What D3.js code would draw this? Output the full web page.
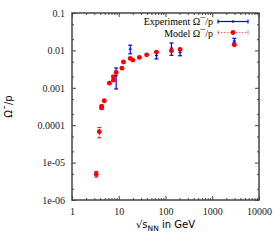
<!DOCTYPE html>
<html>
<head>
<meta charset="utf-8">
<script src="https://cdn.jsdelivr.net/npm/d3@7"></script>
<style>
body { margin: 0; background: #fff; }
</style>
</head>
<body>
<div id="chart"></div>
<script>
const w = 280, h = 245,
m = {top: 13, right: 21, bottom: 45, left: 72};

// model values (red points)
const modelX = [3.3, 3.83, 4.3, 4.3, 4.9, 6.3, 7.7, 7.7, 8.8, 11.7, 12.6, 17.6, 20, 27.6, 39.6, 64, 134, 205, 2960];
const modelY = [4.9e-6, 6.7e-5, 3.2e-4, 2.9e-4, 4.5e-4, 1.33e-3, 2.0e-3, 1.6e-3, 2.6e-3, 3.35e-3, 4.9e-3, 6.1e-3, 5.5e-3, 6.5e-3, 7.6e-3, 9.0e-3, 9.8e-3, 1.06e-2, 1.41e-2];
const modelLo = [4.1e-6, 4.6e-5, 2.9e-4, 2.7e-4, 4.3e-4, 1.28e-3, 1.9e-3, 1.5e-3, 2.5e-3, 3.25e-3, 4.7e-3, 5.9e-3, 5.3e-3, 6.3e-3, 7.4e-3, 8.6e-3, 9.4e-3, 1.02e-2, 1.36e-2];
const modelHi = [5.8e-6, 8.6e-5, 3.5e-4, 3.1e-4, 4.7e-4, 1.38e-3, 2.1e-3, 1.7e-3, 2.7e-3, 3.45e-3, 5.1e-3, 6.3e-3, 5.7e-3, 6.7e-3, 7.8e-3, 9.4e-3, 1.02e-2, 1.10e-2, 1.46e-2];

// experiment values (blue error bars)
const expX = [8.8, 17.6, 64, 134, 205, 2960];
const expY = [2.1e-3, 1.08e-2, 7.3e-3, 1.15e-2, 8.8e-3, 1.78e-2];
const expLo = [9.3e-4, 8.1e-3, 5.9e-3, 7.4e-3, 7.2e-3, 1.58e-2];
const expHi = [3.4e-3, 1.38e-2, 9.0e-3, 1.58e-2, 1.06e-2, 2.1e-2];

const xTicks = [1, 10, 100, 1000, 10000];
const yTicks = [1e-6, 1e-5, 1e-4, 1e-3, 1e-2, 1e-1];
const yLabels = ["1e-06", "1e-05", "0.0001", "0.001", "0.01", "0.1"];

const svg = d3.select("#chart")
    .append("svg")
    .attr("width", w)
    .attr("height", h);

let x = d3.scaleLog([1, 10000], [m.left, w - m.right]);
let y = d3.scaleLog([1e-6, 0.1], [h - m.bottom, m.top]);

// minor ticks
let xMinor = [];
for (let d = 1; d < 10000; d *= 10) for (let k = 2; k < 10; k++) xMinor.push(d * k);
let yMinor = [];
for (let d = 1e-6; d < 0.099; d *= 10) { yMinor.push(d * 2); yMinor.push(d * 5); }

const axisCol = "#444";
function styleAxis(g) {
    g.select(".domain").remove();
    g.selectAll("line").attr("stroke", axisCol);
    g.selectAll("text").style("font-family", "Liberation Serif").style("font-size", "10px").attr("fill", "#222");
}

svg.append("g").attr("transform", `translate(0,${h - m.bottom})`)
    .call(d3.axisBottom(x).tickValues(xTicks).tickFormat(d3.format("d")).tickSize(-4).tickPadding(8))
    .call(styleAxis);
svg.append("g").attr("transform", `translate(0,${h - m.bottom})`)
    .call(d3.axisBottom(x).tickValues(xMinor).tickFormat("").tickSize(-2))
    .call(styleAxis);
svg.append("g").attr("transform", `translate(0,${m.top})`)
    .call(d3.axisTop(x).tickValues(xTicks).tickFormat("").tickSize(-4))
    .call(styleAxis);
svg.append("g").attr("transform", `translate(0,${m.top})`)
    .call(d3.axisTop(x).tickValues(xMinor).tickFormat("").tickSize(-2))
    .call(styleAxis);

svg.append("g").attr("transform", `translate(${m.left},0)`)
    .call(d3.axisLeft(y).tickValues(yTicks).tickFormat((d, i) => yLabels[i]).tickSize(-4).tickPadding(7))
    .call(styleAxis);
svg.append("g").attr("transform", `translate(${m.left},0)`)
    .call(d3.axisLeft(y).tickValues(yMinor).tickFormat("").tickSize(-2))
    .call(styleAxis);
svg.append("g").attr("transform", `translate(${w - m.right},0)`)
    .call(d3.axisRight(y).tickValues(yTicks).tickFormat("").tickSize(-4))
    .call(styleAxis);
svg.append("g").attr("transform", `translate(${w - m.right},0)`)
    .call(d3.axisRight(y).tickValues(yMinor).tickFormat("").tickSize(-2))
    .call(styleAxis);

// frame
svg.append("rect")
    .attr("x", m.left).attr("y", m.top)
    .attr("width", w - m.left - m.right).attr("height", h - m.top - m.bottom)
    .attr("fill", "none").attr("stroke", axisCol).attr("stroke-width", 1.5);

const model = modelX.map((d, i) => ({x: d, y: modelY[i], lo: modelLo[i], hi: modelHi[i]}));
const exp = expX.map((d, i) => ({x: d, y: expY[i], lo: expLo[i], hi: expHi[i]}));

// model error bars
const mg = svg.append("g").attr("stroke", "#f00").attr("stroke-width", 1);
mg.selectAll(".v").data(model).join("line")
    .attr("x1", d => x(d.x)).attr("x2", d => x(d.x))
    .attr("y1", d => y(d.lo)).attr("y2", d => y(d.hi))
    .attr("stroke-dasharray", "1.5,1");
mg.selectAll(".c1").data(model).join("line")
    .attr("x1", d => x(d.x) - 2).attr("x2", d => x(d.x) + 2)
    .attr("y1", d => y(d.lo)).attr("y2", d => y(d.lo));
mg.selectAll(".c2").data(model).join("line")
    .attr("x1", d => x(d.x) - 2).attr("x2", d => x(d.x) + 2)
    .attr("y1", d => y(d.hi)).attr("y2", d => y(d.hi));

// experiment error bars
const eg = svg.append("g").attr("stroke", "#00f").attr("stroke-width", 1.2);
eg.selectAll(".v").data(exp).join("line")
    .attr("x1", d => x(d.x)).attr("x2", d => x(d.x))
    .attr("y1", d => y(d.lo)).attr("y2", d => y(d.hi));
eg.selectAll(".c1").data(exp).join("line")
    .attr("x1", d => x(d.x) - 2).attr("x2", d => x(d.x) + 2)
    .attr("y1", d => y(d.lo)).attr("y2", d => y(d.lo));
eg.selectAll(".c2").data(exp).join("line")
    .attr("x1", d => x(d.x) - 2).attr("x2", d => x(d.x) + 2)
    .attr("y1", d => y(d.hi)).attr("y2", d => y(d.hi));
eg.selectAll(".m").data(exp).join("line")
    .attr("x1", d => x(d.x) - 1.5).attr("x2", d => x(d.x) + 1.5)
    .attr("y1", d => y(d.y)).attr("y2", d => y(d.y));

// model points
svg.append("g").selectAll("circle").data(model).join("circle")
    .attr("cx", d => x(d.x)).attr("cy", d => y(d.y)).attr("r", 2.4)
    .attr("fill", "#f00");

// legend
const lg = svg.append("g").style("font-family", "Liberation Serif").style("font-size", "10px");
lg.append("text").attr("x", 213).attr("y", 25).attr("text-anchor", "end").text("Experiment \u03A9\u00AF/p");
lg.append("text").attr("x", 213).attr("y", 36.5).attr("text-anchor", "end").text("Model \u03A9\u00AF/p");
const l1 = lg.append("g").attr("stroke", "#00f").attr("stroke-width", 1.2);
l1.append("line").attr("x1", 218).attr("x2", 248).attr("y1", 21.5).attr("y2", 21.5);
l1.append("line").attr("x1", 218).attr("x2", 218).attr("y1", 19.5).attr("y2", 23.5);
l1.append("line").attr("x1", 248).attr("x2", 248).attr("y1", 19.5).attr("y2", 23.5);
l1.append("line").attr("x1", 233).attr("x2", 233).attr("y1", 20).attr("y2", 23);
const l2 = lg.append("g").attr("stroke", "#f00").attr("stroke-width", 1);
l2.append("line").attr("x1", 218).attr("x2", 248).attr("y1", 32.5).attr("y2", 32.5).attr("stroke-dasharray", "1.5,1.5").attr("stroke-opacity", 0.6);
l2.append("line").attr("x1", 218).attr("x2", 218).attr("y1", 30.5).attr("y2", 34.5).attr("stroke-opacity", 0.6);
l2.append("line").attr("x1", 248).attr("x2", 248).attr("y1", 30.5).attr("y2", 34.5).attr("stroke-opacity", 0.6);
lg.append("circle").attr("cx", 233).attr("cy", 32.5).attr("r", 2.4).attr("fill", "#f00");

// axis labels
svg.append("text")
    .attr("transform", `translate(12,${(m.top + h - m.bottom) / 2}) rotate(-90)`)
    .attr("text-anchor", "middle")
    .style("font-family", "DejaVu Sans").style("font-size", "10px")
    .text("\u03A9\u00AF/p");
const xl = svg.append("text")
    .attr("x", (m.left + w - m.right) / 2).attr("y", 228)
    .attr("text-anchor", "middle")
    .style("font-family", "DejaVu Sans").style("font-size", "10px");
xl.append("tspan").text("\u221As");
xl.append("tspan").attr("dy", 3).style("font-size", "7.5px").text("NN");
xl.append("tspan").attr("dy", -3).text(" in GeV");
</script>
</body>
</html>
